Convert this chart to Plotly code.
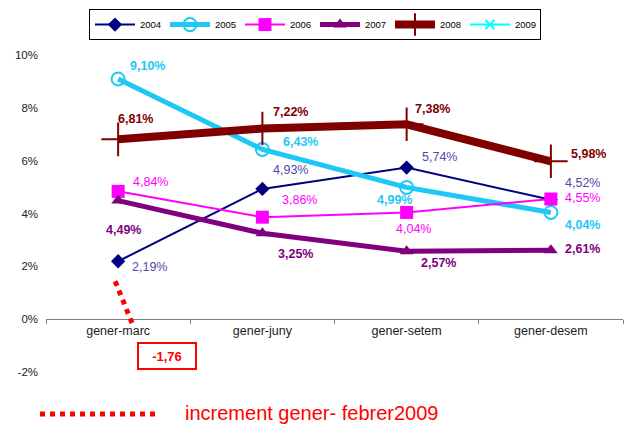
import plotly.graph_objects as go

categories = ["gener-marc", "gener-juny", "gener-setem", "gener-desem"]
years = ["2004", "2005", "2006", "2007", "2008", "2009"]
v2004 = [2.19, 4.93, 5.74, 4.52]
v2005 = [9.10, 6.43, 4.99, 4.04]
v2006 = [4.84, 3.86, 4.04, 4.55]
v2007 = [4.49, 3.25, 2.57, 2.61]
v2008 = [6.81, 7.22, 7.38, 5.98]
v2009 = [None, None, None, None]
increment_value = -1.76
increment_label = "increment gener- febrer2009"
y_ticks = [-2, 0, 2, 4, 6, 8, 10]
y_ticktext = ["-2%", "0%", "2%", "4%", "6%", "8%", "10%"]

FONT = "Liberation Sans, Arial, sans-serif"

series = [
    dict(name="2004", y=v2004, color="#000080", lw=2, sym="diamond", ms=11, mline=0,
         lab="#4B4BA8", bold=False,
         off=[(31, 6), (28, -19), (33, -11), (32, -17)]),
    dict(name="2005", y=v2005, color="#1EC8F5", lw=5, sym="circle-open", ms=13, mline=2,
         lab="#1EC8F5", bold=True,
         off=[(29, -13), (38, -7), (-12, 13), (32, 13)]),
    dict(name="2006", y=v2006, color="#FF00FF", lw=2, sym="square", ms=13, mline=0,
         lab="#FF00FF", bold=False,
         off=[(32, -9), (37, -17), (7, 17), (32, -1)]),
    dict(name="2007", y=v2007, color="#800080", lw=5, sym="triangle-up", ms=12, mline=0,
         lab="#800080", bold=True,
         off=[(5, 29), (33, 21), (32, 12), (32, -1)]),
    dict(name="2008", y=v2008, color="#800000", lw=8, sym="cross-thin", ms=24, mline=2,
         lab="#800000", bold=True,
         off=[(17, -20), (28, -17), (26, -15), (38, -7)]),
    dict(name="2009", y=v2009, color="#00FFFF", lw=2, sym="x-thin", ms=9, mline=2,
         lab="#00FFFF", bold=False, off=[]),
]

fig = go.Figure()
annotations = []
for s in series:
    marker = dict(symbol=s["sym"], size=s["ms"], color=s["color"])
    if s["mline"]:
        marker["line"] = dict(color=s["color"], width=s["mline"])
    fig.add_trace(go.Scatter(
        x=categories, y=s["y"], name=s["name"], mode="lines+markers",
        line=dict(color=s["color"], width=s["lw"]), marker=marker,
        cliponaxis=False,
    ))
    for cat, val, (dx, dy) in zip(categories, s["y"], s["off"]):
        if val is None:
            continue
        txt = f"{val:.2f}".replace(".", ",") + "%"
        if s["bold"]:
            txt = "<b>" + txt + "</b>"
        annotations.append(dict(
            x=cat, y=val, xref="x", yref="y", text=txt, showarrow=False,
            xshift=dx, yshift=-dy, xanchor="center", yanchor="middle",
            font=dict(family=FONT, size=12.5, color=s["lab"]),
        ))

# increment box
annotations.append(dict(
    x=categories[0], y=0, xref="x", yref="y",
    text="<b>" + f"{increment_value:.2f}".replace(".", ",") + "</b>",
    showarrow=False, xshift=49, yshift=-37, width=56, height=24,
    bordercolor="#FF0000", borderwidth=2, borderpad=0, bgcolor="white",
    font=dict(family=FONT, size=13, color="#FF0000"),
))
# bottom legend text
annotations.append(dict(
    x=0.2374, y=-0.082, xref="paper", yref="paper", text=increment_label,
    showarrow=False, xanchor="left", yanchor="middle",
    font=dict(family=FONT, size=20, color="#FF0000"),
))

shapes = [
    # dotted connector from the 2004 first point
    dict(type="line", xref="x", yref="y", xsizemode="pixel", ysizemode="pixel",
         xanchor=0, yanchor=v2004[0], x0=-3, x1=14, y0=-20, y1=-62,
         line=dict(color="#FF0000", width=5, dash="dot")),
    # bottom legend sample
    dict(type="line", xref="paper", yref="paper", x0=-0.0104, x1=0.194,
         y0=-0.0845, y1=-0.0845,
         line=dict(color="#FF0000", width=5, dash="dot")),
]

fig.update_layout(
    width=624, height=422,
    margin=dict(l=38, r=9, t=34, b=45, autoexpand=False),
    paper_bgcolor="white", plot_bgcolor="white",
    font=dict(family=FONT, color="#222222"),
    showlegend=True,
    legend=dict(orientation="h", x=0.0745, y=1.096, xanchor="left", yanchor="top",
                bordercolor="#000000", borderwidth=1, bgcolor="white",
                font=dict(family=FONT, size=9.5, color="#000000"),
                itemwidth=40, entrywidth=20, traceorder="normal",
                tracegroupgap=0),
    annotations=annotations,
    shapes=shapes,
    xaxis=dict(type="category", range=[-0.5, 3.5], anchor="free", position=2.5 / 13,
               showline=True, linecolor="#808080", linewidth=1,
               ticks="outside", ticklen=4, tickcolor="#808080", tickson="boundaries",
               showgrid=False, zeroline=False,
               tickfont=dict(family=FONT, size=12.5, color="#222222")),
    yaxis=dict(range=[-2.5, 10.5], tickvals=y_ticks, ticktext=y_ticktext,
               showgrid=False, zeroline=False, showline=False, ticks="",
               ticklabelstandoff=7,
               tickfont=dict(family=FONT, size=11.5, color="#222222")),
)

fig.write_html("out.html")
